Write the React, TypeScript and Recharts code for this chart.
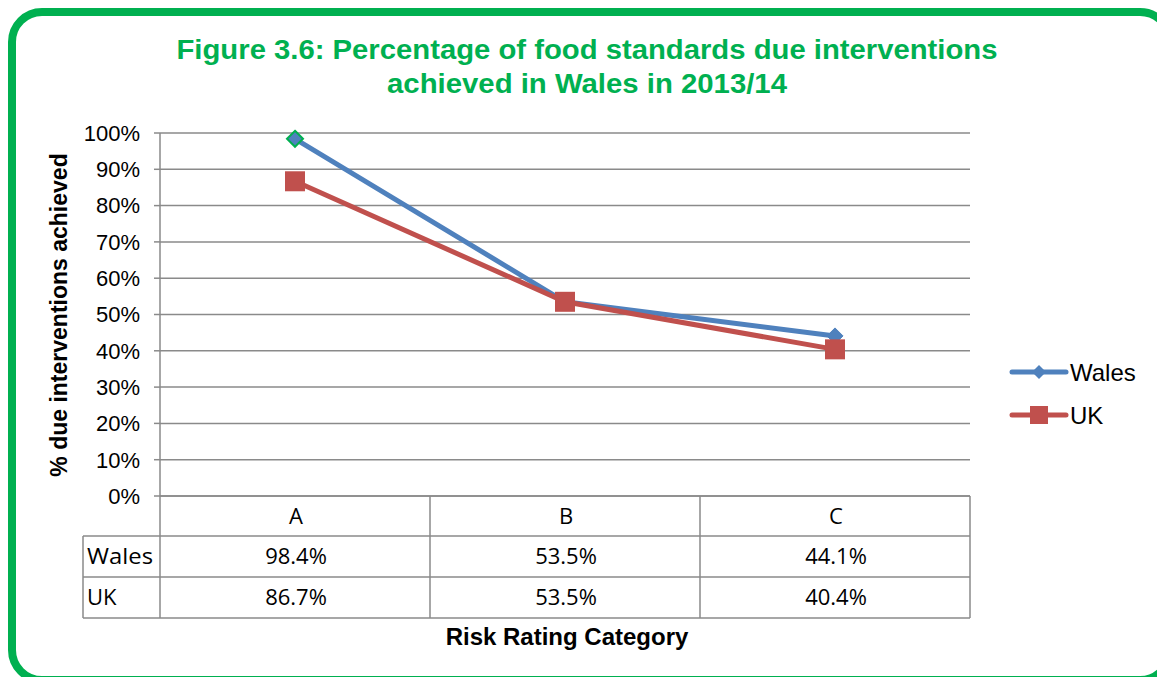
import React from "react";
import { LineChart, Line, XAxis, YAxis, CartesianGrid } from "recharts";

const categories = ["A", "B", "C"];
const walesValues = [98.4, 53.5, 44.1];
const ukValues = [86.7, 53.5, 40.4];
const yTicks = [0, 10, 20, 30, 40, 50, 60, 70, 80, 90, 100];
const seriesNames = ["Wales", "UK"];

const data = categories.map((c, i) => ({ cat: c, Wales: walesValues[i], UK: ukValues[i] }));

const W = 1157;
const H = 677;
const PLOT_LEFT = 160;
const PLOT_RIGHT = 970;
const PLOT_TOP = 133;
const PLOT_BOTTOM = 496;
const HALF = (PLOT_RIGHT - PLOT_LEFT) / categories.length / 2;
const ROW_H = 41;
const LABEL_LEFT = 83;
const GRID = "#8a8a8a";
const WALES = "#4F81BD";
const UK = "#C0504D";
const GREEN = "#00B050";
const TABLE_FONT = "'Open Sans', 'Noto Sans', sans-serif";
const AXIS_FONT = "'Liberation Sans', Arial, sans-serif";
const TF = 22;

const TableTick = (props: any) => {
  const { x, index, payload } = props;
  const i = index;
  const top = PLOT_BOTTOM;
  const r1 = top + 40;
  const r2 = r1 + ROW_H;
  const r3 = r2 + ROW_H;
  const left = x - HALF;
  const right = x + HALF;
  const ln = { stroke: GRID, strokeWidth: 1.5 };
  return (
    <g>
      {i === 0 && (
        <g>
          <line x1={left} y1={top} x2={left} y2={r3} {...ln} />
          <line x1={LABEL_LEFT} y1={r1} x2={left} y2={r1} {...ln} />
          <line x1={LABEL_LEFT} y1={r2} x2={left} y2={r2} {...ln} />
          <line x1={LABEL_LEFT} y1={r3} x2={left} y2={r3} {...ln} />
          <line x1={LABEL_LEFT} y1={r1} x2={LABEL_LEFT} y2={r3} {...ln} />
          <text x={LABEL_LEFT + 4} y={r1 + 28} fontSize={TF} fontFamily={TABLE_FONT} fill="#000" textLength={66} lengthAdjust="spacingAndGlyphs">{seriesNames[0]}</text>
          <text x={LABEL_LEFT + 4} y={r2 + 28} fontSize={TF} fontFamily={TABLE_FONT} fill="#000">{seriesNames[1]}</text>
        </g>
      )}
      <line x1={right} y1={top} x2={right} y2={r3} {...ln} />
      <line x1={left} y1={r1} x2={right} y2={r1} {...ln} />
      <line x1={left} y1={r2} x2={right} y2={r2} {...ln} />
      <line x1={left} y1={r3} x2={right} y2={r3} {...ln} />
      <text x={x + 1} y={top + 28} textAnchor="middle" fontSize={TF} fontFamily={TABLE_FONT} fill="#000">{payload.value}</text>
      <text x={x + 1} y={r1 + 28} textAnchor="middle" fontSize={TF} fontFamily={TABLE_FONT} fill="#000">{walesValues[i].toFixed(1)}%</text>
      <text x={x + 1} y={r2 + 28} textAnchor="middle" fontSize={TF} fontFamily={TABLE_FONT} fill="#000">{ukValues[i].toFixed(1)}%</text>
    </g>
  );
};

const Diamond = (props: any) => {
  const { cx, cy, index } = props;
  if (cx == null || cy == null) return null;
  const s = 8;
  return (
    <path
      key={`d${index}`}
      d={`M${cx},${cy - s} L${cx + s},${cy} L${cx},${cy + s} L${cx - s},${cy} Z`}
      fill={WALES}
      stroke={index === 0 ? GREEN : WALES}
      strokeWidth={index === 0 ? 2 : 1}
    />
  );
};

const Square = (props: any) => {
  const { cx, cy, index } = props;
  if (cx == null || cy == null) return null;
  const s = 10;
  return <rect key={`s${index}`} x={cx - s} y={cy - s} width={2 * s} height={2 * s} fill={UK} />;
};

const LegendSvg = () => (
  <g transform="translate(1008, 355)">
    <line x1={4} y1={17} x2={58} y2={17} stroke={WALES} strokeWidth={5} strokeLinecap="round" />
    <path d="M31,10 L38,17 L31,24 L24,17 Z" fill={WALES} />
    <text x={62} y={26} fontSize={24} fontFamily={AXIS_FONT} fill="#000">{seriesNames[0]}</text>
    <line x1={4} y1={60} x2={58} y2={60} stroke={UK} strokeWidth={5} strokeLinecap="round" />
    <rect x={22} y={51} width={18} height={18} fill={UK} />
    <text x={62} y={69} fontSize={24} fontFamily={AXIS_FONT} fill="#000">{seriesNames[1]}</text>
  </g>
);

export default function App() {
  return (
    <div style={{ position: "absolute", left: 0, top: 0, width: W, height: H, background: "#fff", overflow: "hidden" }}>
      <svg width={W} height={H} style={{ position: "absolute", left: 0, top: 0 }}>
        <rect x={12} y={12} width={1158} height={668} rx={30} ry={30} fill="#fff" stroke={GREEN} strokeWidth={8} />
        <text x={587} y={59} textAnchor="middle" fontSize={28} fontWeight="bold" fontFamily={AXIS_FONT} fill={GREEN} textLength={821} lengthAdjust="spacingAndGlyphs">
          Figure 3.6: Percentage of food standards due interventions
        </text>
        <text x={587} y={93} textAnchor="middle" fontSize={28} fontWeight="bold" fontFamily={AXIS_FONT} fill={GREEN} textLength={400} lengthAdjust="spacingAndGlyphs">
          achieved in Wales in 2013/14
        </text>
        <text
          x={0}
          y={0}
          transform={`translate(67, 315) rotate(-90)`}
          textAnchor="middle"
          fontSize={23}
          fontWeight="bold"
          fontFamily={AXIS_FONT}
          fill="#000"
        >
          % due interventions achieved
        </text>
        <text x={567} y={645} textAnchor="middle" fontSize={24} fontWeight="bold" fontFamily={AXIS_FONT} fill="#000">
          Risk Rating Category
        </text>
        <LegendSvg />
      </svg>
      <div style={{ position: "absolute", left: 0, top: 0 }}>
        <LineChart
          width={W}
          height={H}
          data={data}
          margin={{ top: PLOT_TOP, bottom: H - PLOT_BOTTOM - 130, left: PLOT_LEFT - 80, right: W - PLOT_RIGHT }}
        >
          <CartesianGrid vertical={false} stroke={GRID} strokeWidth={1.5} />
          <XAxis
            dataKey="cat"
            scale="band"
            axisLine={{ stroke: GRID, strokeWidth: 1.5 }}
            tickLine={false}
            tick={<TableTick />}
            height={130}
            interval={0}
          />
          <YAxis
            width={80}
            domain={[0, 100]}
            ticks={yTicks}
            tickFormatter={(v: number) => `${v}%`}
            axisLine={{ stroke: GRID, strokeWidth: 1.5 }}
            tickLine={{ stroke: GRID, strokeWidth: 1.5 }}
            tickSize={6}
            tickMargin={14}
            tick={{ fontSize: 22, fontFamily: AXIS_FONT, fill: "#000" }}
            interval={0}
          />
          <Line
            type="linear"
            dataKey="Wales"
            stroke={WALES}
            strokeWidth={5}
            dot={<Diamond />}
            activeDot={false}
            isAnimationActive={false}
          />
          <Line
            type="linear"
            dataKey="UK"
            stroke={UK}
            strokeWidth={5}
            dot={<Square />}
            activeDot={false}
            isAnimationActive={false}
          />
        </LineChart>
      </div>
    </div>
  );
}
